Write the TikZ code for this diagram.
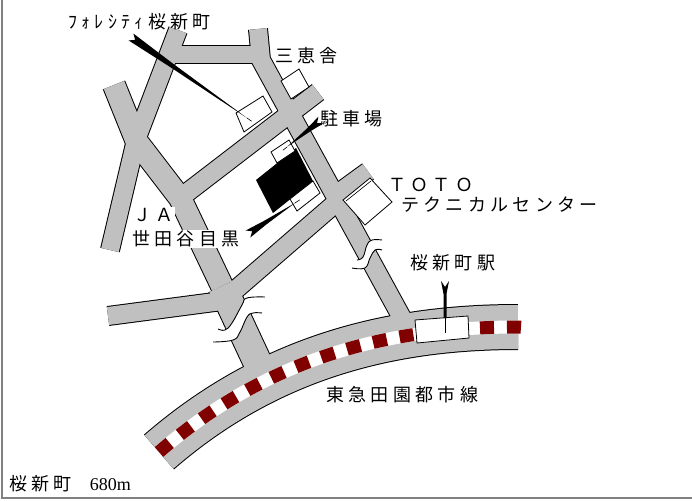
\documentclass[tikz,border=0pt]{standalone}
\usepackage{fontspec}
\setmainfont{Liberation Serif}
\newfontfamily\jp[LetterSpace=24]{Noto Sans CJK JP}
\usepackage{tikz}
\usetikzlibrary{calc}

\definecolor{roadgray}{RGB}{192,192,192}
\definecolor{railred}{RGB}{128,0,0}
\definecolor{framegray}{RGB}{128,128,128}

\newcommand{\pointer}[2]{\fill ($(#1)!4.2pt!90:(#2)$) -- ($(#1)!5pt!(#2)$) -- ($(#1)!4.2pt!-90:(#2)$) -- ($(#1)!0.35!(#2)!2.2pt!-90:(#2)$) -- (#2) -- ($(#1)!0.35!(#2)!2.2pt!90:(#2)$) -- cycle;}

\begin{document}
\begin{tikzpicture}[x=1pt, y=-1pt, maptext/.style={font=\jp\fontsize{18}{18}\selectfont, inner sep=0pt, anchor=west}, maptextbg/.style={maptext, fill=white, inner sep=1pt}, bldg/.style={draw=black, fill=white, line width=0.8pt}, squiggle/.style={draw=black, line width=0.9pt}]
  \useasboundingbox (0,0) rectangle (692,500);
  \foreach \col/\e in {black/2pt, roadgray/0pt}{
    \begin{scope}[\col]
      \draw[line width=18pt+\e] (258,29) -- (261,60) -- (402,318);
      \draw[line width=18pt+\e] (178,30) -- (136,140) -- (110,250);
      \draw[line width=22pt+\e] (114,85) -- (137,142) -- (180,198) -- (222,286);
      \draw[line width=28pt+\e] (222,286) -- (262,372);
      \draw[line width=17pt+\e] (168,54.5) -- (261,54.5);
      \draw[line width=18pt+\e] (108,316) -- (222,301);
      \draw[line width=18pt+\e] (226,298) -- (338,201);
      \draw[line width=18pt+\e] (333,197) -- (368,171.5);
      \draw[line width=18pt+\e] (180,198) -- (318,92);
      \draw[line width=44pt+\e] (159,452) .. controls (273,353) and (398,327) .. (518,327);
    \end{scope}
  }
  \draw[white, line width=13pt] (159,452) .. controls (273,353) and (398,327) .. (518,327) -- (532,328);
  \draw[railred, line width=13pt, dash pattern=on 14pt off 13pt] (159,452) .. controls (273,353) and (398,327) .. (518,327) -- (532,328);

  \fill[white] plot[smooth, tension=0.7] coordinates {(265,297) (247,298) (242,305) (232,323) (225,330) (218,329)} -- plot[smooth, tension=0.7] coordinates {(213,342) (233,340) (240,332) (247,317) (253,313) (262,313)} -- cycle;
  \draw[squiggle] plot[smooth, tension=0.7] coordinates {(265,297) (247,298) (242,305) (232,323) (225,330) (218,329)};
  \draw[squiggle] plot[smooth, tension=0.7] coordinates {(213,342) (233,340) (240,332) (247,317) (253,313) (262,313)};
  \fill[white] plot[smooth, tension=0.7] coordinates {(382,240) (372,240) (367,245) (363,257) (357,260)} -- plot[smooth, tension=0.7] coordinates {(352,268) (365,268) (370,258) (375,250) (382,250)} -- cycle;
  \draw[squiggle] plot[smooth, tension=0.7] coordinates {(382,240) (372,240) (367,245) (363,257) (357,260)};
  \draw[squiggle] plot[smooth, tension=0.7] coordinates {(352,268) (365,268) (370,258) (375,250) (382,250)};

  \draw[bldg] (236,113) -- (263,96) -- (272,112) -- (244,132) -- cycle;
  \draw[bldg] (281,81) -- (299,69) -- (309,87) -- (291,99) -- cycle;
  \fill (256,180) -- (296,148) -- (313,181) -- (273,213) -- cycle;
  \draw[bldg] (271,152) -- (289,140) -- (295,151) -- (277,163) -- cycle;
  \draw[bldg] (290,199) -- (313,181) -- (320,193) -- (297,211) -- cycle;
  \draw[bldg] (343,200) -- (370,178) -- (392,202) -- (365,225) -- cycle;
  \draw[line width=0.6pt] (346,201) -- (371,181);
  \draw[bldg] (415,320) -- (468,316) -- (469,338) -- (417,343) -- cycle;

  \coordinate (fcTail) at (131,37);
  \coordinate (fcTip) at (247,118);
  \coordinate (pkTail) at (321,120);
  \coordinate (pkTip) at (287,147);
  \coordinate (jaTail) at (248,234);
  \coordinate (jaTip) at (295,203);
  \coordinate (stTail) at (445,281);
  \coordinate (stTip) at (445,318);
  \pointer{fcTail}{fcTip}
  \pointer{pkTail}{pkTip}
  \pointer{jaTail}{jaTip}
  \fill (441,281) -- (445,287) -- (449,281) -- (446.5,294) -- (446.5,318) -- (443.5,318) -- (443.5,294) -- cycle;
  \draw[line width=0.6pt] (fcTip) -- ($(fcTail)!1.04!(fcTip)$);
  \draw[line width=0.6pt] (pkTip) -- ($(pkTail)!1.12!(pkTip)$);
  \draw[line width=0.6pt] (jaTip) -- ($(jaTail)!1.1!(jaTip)$);
  \draw[line width=0.8pt] (stTip) -- (445,333);

  \node[maptext] (forest) at (68,22) {ﾌｫﾚｼﾃｨ桜新町};
  \node[maptext] (sankei) at (275,56) {三恵舎};
  \node[maptext] (parking) at (320,119) {駐車場};
  \node[maptext] (toto) at (388,185) {ＴＯＴＯ};
  \node[maptext] (totocenter) at (401,205) {テクニカルセンター};
  \node[maptext] (station) at (410,263) {桜新町駅};
  \node[maptextbg] (ja) at (132,215) {ＪＡ};
  \node[maptextbg] (janame) at (131,239) {世田谷目黒};
  \node[maptext] (line) at (326,395) {東急田園都市線};
  \node[anchor=west, inner sep=0pt, font=\fontsize{18}{18}\selectfont] (dist) at (9,484) {{\jp\fontsize{18}{18}\selectfont 桜新町}\hspace{18pt}680m};

  \draw[framegray, line width=2pt] (2,0) -- (2,498) -- (692,498);
\end{tikzpicture}
\end{document}
